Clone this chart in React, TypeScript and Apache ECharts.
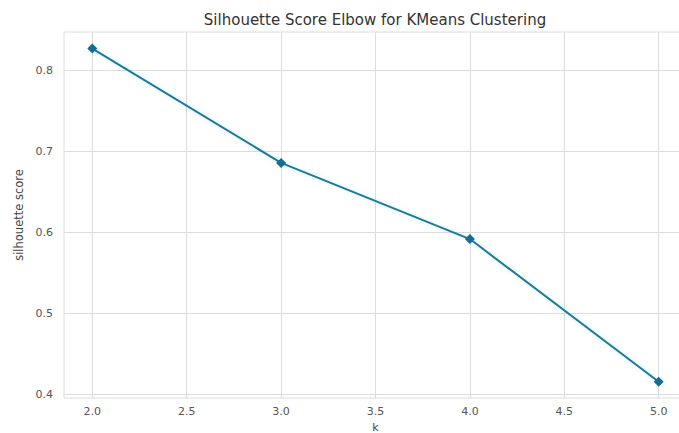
import React, { useEffect, useRef } from "react";
import * as echarts from "echarts";

const kValues = [2, 3, 4, 5];
const scores = [0.827, 0.686, 0.592, 0.416];
const xTicks = [2.0, 2.5, 3.0, 3.5, 4.0, 4.5, 5.0];
const yTicks = [0.4, 0.5, 0.6, 0.7, 0.8];

const TITLE = "Silhouette Score Elbow for KMeans Clustering";
const X_NAME = "k";
const Y_NAME = "silhouette score";

export default function App() {
  const ref = useRef<HTMLDivElement>(null);
  useEffect(() => {
    if (!ref.current) return;
    const chart = echarts.init(ref.current, null, { renderer: "svg" });
    const font = "'DejaVu Sans', sans-serif";
    chart.setOption({
      animation: false,
      backgroundColor: "#ffffff",
      title: {
        text: TITLE,
        left: 375,
        textAlign: "center",
        top: 12,
        padding: 0,
        textStyle: { fontFamily: font, fontSize: 15, fontWeight: "normal", color: "#333" },
      },
      grid: {
        left: 64,
        top: 32,
        width: 623,
        bottom: 35,
        outerBoundsMode: "none",
        containLabel: false,
        show: true,
        borderColor: "#dcdcdc",
        borderWidth: 1,
        backgroundColor: "#ffffff",
      },
      xAxis: {
        type: "value",
        min: 1.85,
        max: 5.15,
        name: X_NAME,
        nameLocation: "middle",
        nameGap: 17,
        nameTextStyle: { fontFamily: font, fontSize: 11, lineHeight: 12, color: "#444" },
        axisLine: { show: false },
        axisTick: { show: false, customValues: xTicks },
        axisLabel: {
          customValues: xTicks,
          formatter: (v: number) => v.toFixed(1),
          fontFamily: font,
          fontSize: 11,
          color: "#555",
          margin: 8,
        },
        splitLine: { show: true, lineStyle: { color: "#dcdcdc", width: 1 } },
      },
      yAxis: {
        type: "value",
        min: 0.3959,
        max: 0.8475,
        name: Y_NAME,
        nameLocation: "middle",
        nameRotate: 90,
        nameGap: 38,
        nameTextStyle: { fontFamily: font, fontSize: 11.5, color: "#444" },
        axisLine: { show: false },
        axisTick: { show: false, customValues: yTicks },
        axisLabel: {
          customValues: yTicks,
          formatter: (v: number) => v.toFixed(1),
          fontFamily: font,
          fontSize: 11,
          color: "#555",
          margin: 11,
        },
        splitLine: { show: true, lineStyle: { color: "#dcdcdc", width: 1 } },
      },
      series: [
        {
          type: "line",
          data: kValues.map((k, i) => [k, scores[i]]),
          symbol: "diamond",
          symbolSize: 10,
          lineStyle: {
            color: "#1f7898",
            width: 2,
            shadowColor: "rgba(90,200,235,0.35)",
            shadowBlur: 4,
          },
          itemStyle: { color: "#156d94" },
          clip: false,
        },
      ],
    });
    return () => chart.dispose();
  }, []);
  return (
    <div
      ref={ref}
      style={{ position: "fixed", left: 0, top: 0, width: 679, height: 433 }}
    />
  );
}
